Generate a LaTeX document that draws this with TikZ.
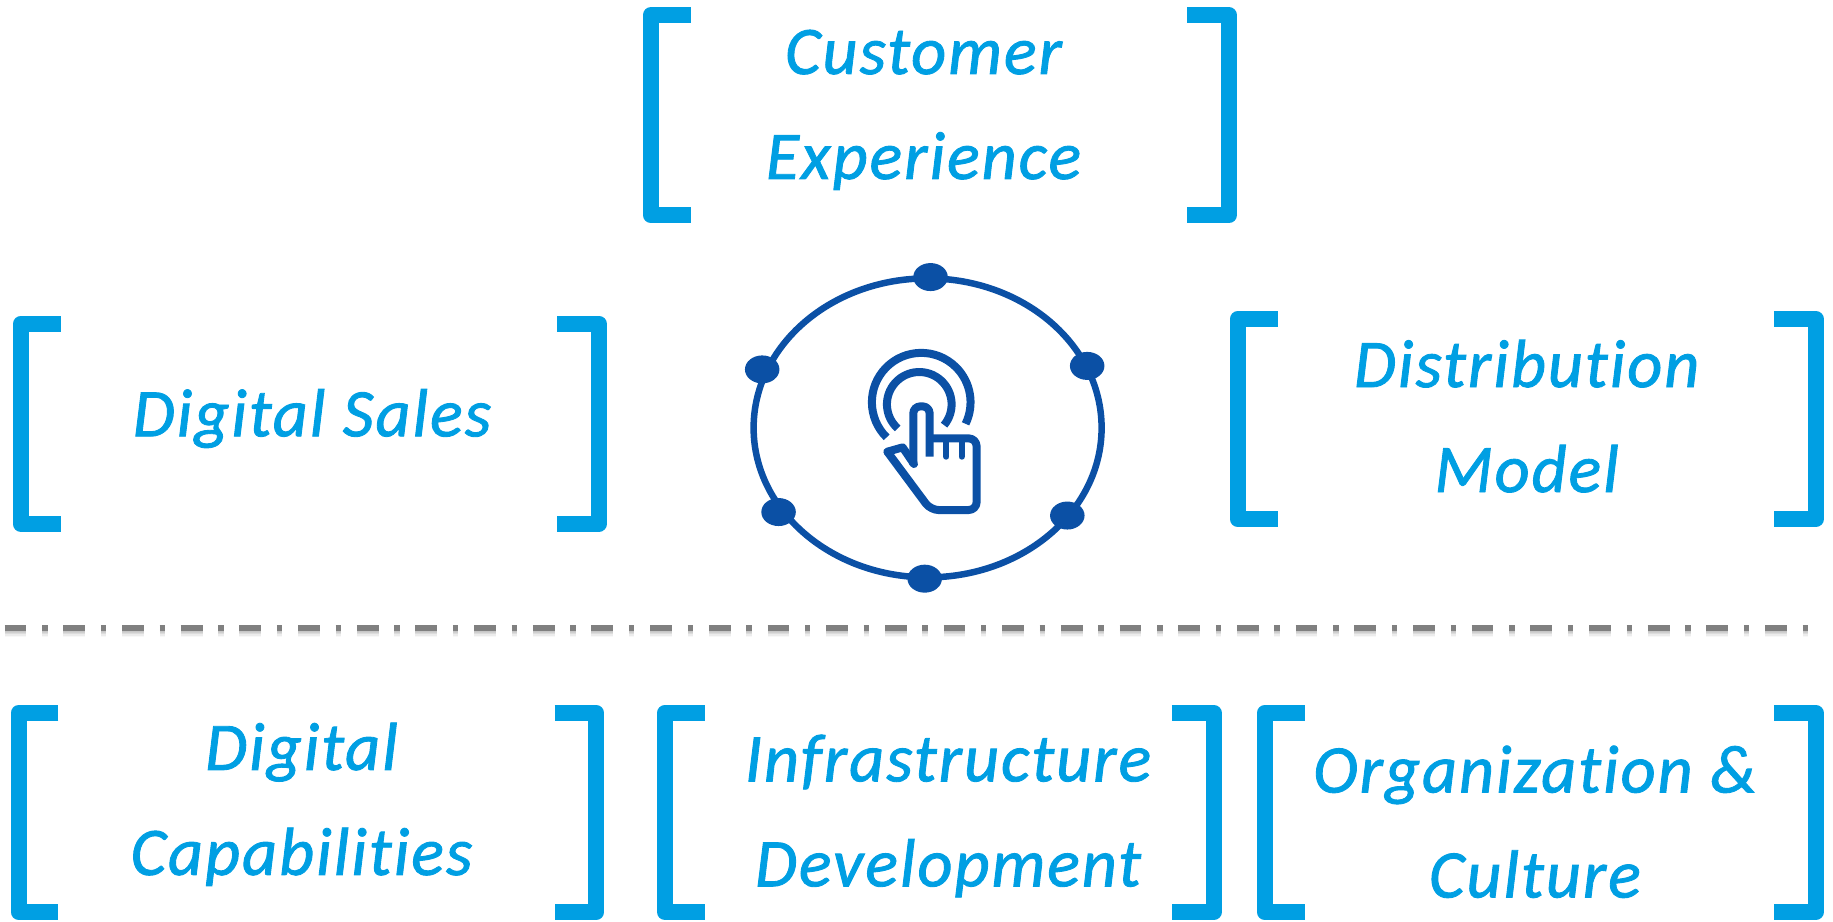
\documentclass[tikz,border=0pt]{standalone}
\usepackage{fontspec}
\usetikzlibrary{shapes.geometric}
\newfontfamily\handfont[LetterSpace=3,FakeBold=1.3,RawFeature={-liga;-clig;-dlig}]{Carlito}
\definecolor{sky}{HTML}{009FE3}
\definecolor{navy}{HTML}{0B50A5}
\definecolor{rulegray}{HTML}{808080}
\tikzset{
  bracketline/.style={draw=sky,line width=16pt,line join=round,line cap=butt},
  label/.style={text=sky,align=center,inner sep=0pt,font=\handfont\itshape\fontsize{68}{105}\selectfont},
  ringline/.style={draw=navy,line width=6.5pt},
  ringdot/.style={ellipse,fill=navy,draw=none,minimum width=34.5pt,minimum height=28pt,inner sep=0pt},
  iconline/.style={draw=navy,line width=8pt,line join=round,line cap=butt},
  tickline/.style={draw=navy,line width=6pt,line cap=round},
  rulepat/.style={line width=5.7pt,dash pattern=on 21.8pt off 15.7pt on 5.4pt off 15.78pt}
}
\newcommand{\bracketpair}[4]{%
  \draw[bracketline] ({#1+41},{#2+6.84}) -- ({#1+6.84},{#2+6.84}) -- ({#1+6.84},{#4-6.84}) -- ({#1+41},{#4-6.84});
  \draw[bracketline] ({#3-42.5},{#2+6.84}) -- ({#3-6.84},{#2+6.84}) -- ({#3-6.84},{#4-6.84}) -- ({#3-42.5},{#4-6.84});
}
\begin{document}
\begin{tikzpicture}[x=1.169pt,y=-1.169pt]
\useasboundingbox (0,0) rectangle (1568,788);
% brackets
\bracketpair{550}{6}{1058}{191}
\bracketpair{11}{270}{519}{455}
\bracketpair{1052}{266}{1560}{451}
\bracketpair{9}{603}{517}{787}
\bracketpair{562}{603}{1045}{787}
\bracketpair{1075}{603}{1560}{787}
% labels
\node[label] (customer) at (790,94) {Customer\\Experience};
\node[label] (sales) at (267,358) {Digital Sales};
\node[label] (distribution) at (1306,356) {Distribution\\Model};
\node[label] (capabilities) at (258,688) {Digital\\Capabilities};
\node[label] (infrastructure) at (811,698) {Infrastructure\\Development};
\node[label] (organization) at (1313,703) {Organization \&\\Culture};
% ring
\node[ellipse,minimum width=348pt,minimum height=299pt,inner sep=0pt,ringline] (ring) at (793.5,366) {};
\node[ringdot] (d1) at (796,237) {};
\node[ringdot] (d2) at (930,313) {};
\node[ringdot] (d3) at (913,441) {};
\node[ringdot] (d4) at (791,495) {};
\node[ringdot] (d5) at (666,438) {};
\node[ringdot] (d6) at (652,316) {};
% hand icon, drawn in units of a third of a pixel
\begin{scope}[shift={(615.9,213.9)},x=0.3333pt,y=0.3333pt]
  \draw[iconline] (500,-562) arc[start angle=225.5,end angle=-26,radius=148];
  \draw[iconline] (533,-535) arc[start angle=228,end angle=-40,radius=97];
  \draw[iconline,rounded corners=7pt] (580,-645) -- (580,-469) -- (629,-469) -- (629,-620);
  \draw[iconline,rounded corners=8pt] (629,-565) -- (770,-565) -- (770,-780) -- (632,-780) -- (502,-605);
  \draw[iconline,line cap=round,line join=round] (502,-605) -- (548,-592) -- (582,-642);
  \draw[tickline] (679,-577) -- (679,-620);
  \draw[tickline] (725,-577) -- (725,-620);
\end{scope}
% separator
\foreach \o/\a in {1.2/.10,2.2/.14,3.2/.14,4.2/.10,5.2/.06}{
  \draw[rulepat,draw=rulegray,opacity=\a] (4,{537+\o}) -- (1547,{537+\o});
}
\draw[rulepat,draw=rulegray] (4,537) -- (1547,537);
\end{tikzpicture}
\end{document}
